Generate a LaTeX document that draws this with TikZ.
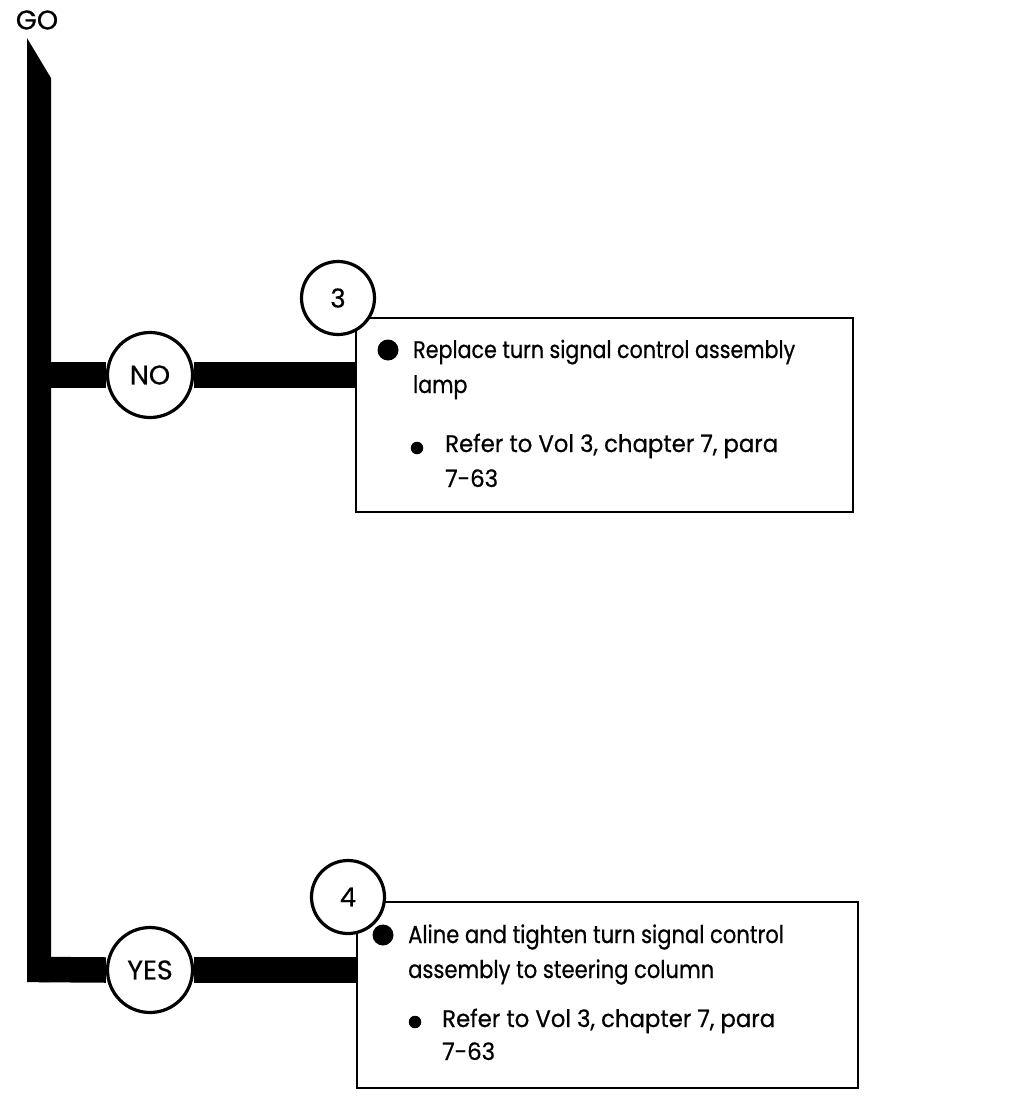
\documentclass[tikz,border=0pt]{standalone}
\usepackage{fontspec}
\setmainfont[FakeStretch=0.86, FakeBold=0.6]{Poppins}
\newfontfamily\subfont[FakeStretch=0.95, FakeBold=0.6]{Poppins}
\newfontfamily\labelfont[FakeBold=0.6]{Poppins}
\usetikzlibrary{positioning}

\pgfdeclarelayer{background}
\pgfsetlayers{background,main}

\tikzset{
  flowbar/.style={line width=25.5pt},
  answer/.style={circle, draw, fill=white, line width=3.2pt, minimum size=85pt,
    inner sep=0pt, font=\labelfont\fontsize{27}{30}\selectfont},
  stepnum/.style={circle, draw, fill=white, line width=3.2pt, minimum size=73pt,
    inner sep=0pt, font=\labelfont\fontsize{26}{30}\selectfont},
  actionbox/.style={rectangle, draw, line width=2.2pt, inner sep=0pt},
  bigdot/.style={circle, fill, inner sep=0pt, minimum size=21pt},
  smalldot/.style={circle, fill, inner sep=0pt, minimum size=12.5pt},
  boxtext/.style={anchor=base west, align=left, inner sep=0pt,
    font=\fontsize{24}{35}\selectfont},
  subtext/.style={boxtext, font=\subfont\fontsize{24}{35}\selectfont},
}

\begin{document}
\begin{tikzpicture}[x=1pt, y=-1pt]

  % ---- page ----
  \useasboundingbox (0,0) rectangle (1013,1109);

  % ---- start ----
  \node[font=\labelfont\fontsize{27}{30}\selectfont, inner sep=0pt] (go) at (37,20) {GO};

  % ---- trunk ----
  \coordinate (trunktop) at (27,38);
  \coordinate (trunkbend) at (51,78);
  \fill (trunktop) -- (trunkbend) -- (51,982) -- (27,982) -- cycle;
  \coordinate (split3) at (39,375);
  \coordinate (split4) at (39,969.5);

  % ---- boxes ----
  \node[actionbox, minimum width=497pt, minimum height=194pt] (box3) at (604.5,415) {};
  \node[actionbox, minimum width=501pt, minimum height=186pt] (box4) at (607.5,995) {};

  % ---- answers ----
  \node[answer] (no) at (150,375) {NO};
  \node[answer] (yes) at (150,970) {YES};

  \begin{pgfonlayer}{background}
    \draw[flowbar] (split3) -- (no.west);
    \draw[flowbar] (no.east) -- (no -| box3.west);
    \draw[flowbar] (split4) -- (yes.west);
    \draw[flowbar] (yes.east) -- (yes -| box4.west);
  \end{pgfonlayer}

  % ---- step numbers ----
  \node[stepnum] (step3) at (338,298) {3};
  \node[stepnum] (step4) at (348,897) {4};

  % ---- box 3 text ----
  \node[bigdot] (dot3a) at (388,350) {};
  \node[boxtext] (txt3a) at (413,393) {Replace turn signal control assembly\\lamp};
  \node[smalldot] (dot3b) at (417,448) {};
  \node[subtext] (txt3b) at (445,487) {Refer to Vol 3, chapter 7, para\\7-63};

  % ---- box 4 text ----
  \node[bigdot] (dot4a) at (383,935) {};
  \node[boxtext, font=\fontsize{24.5}{35}\selectfont] (txt4a) at (408,978) {Aline and tighten turn signal control\\assembly to steering column};
  \node[smalldot] (dot4b) at (415,1022) {};
  \node[subtext, font=\subfont\fontsize{24}{33}\selectfont] (txt4b) at (442,1060) {Refer to Vol 3, chapter 7, para\\7-63};

\end{tikzpicture}
\end{document}
